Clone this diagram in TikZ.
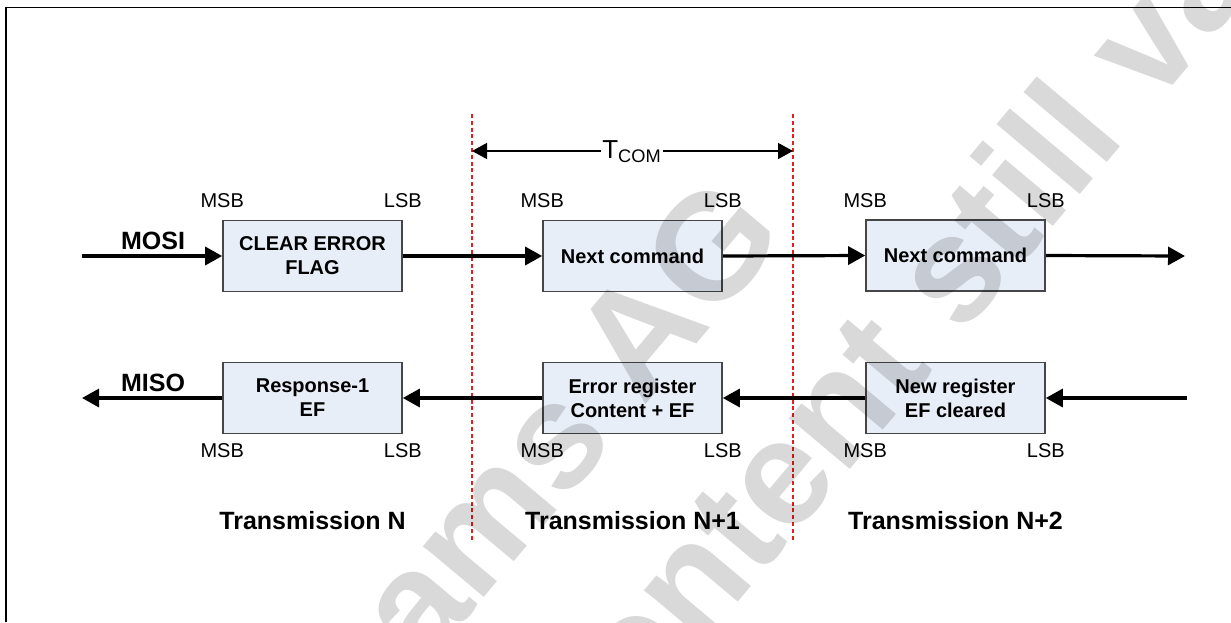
\documentclass[tikz,border=0pt]{standalone}
\usepackage{fontspec}
\setmainfont{Liberation Sans}
\usetikzlibrary{arrows.meta,positioning}
\definecolor{boxfill}{RGB}{232,238,248}
\definecolor{boxline}{RGB}{70,70,70}
\definecolor{slotred}{RGB}{230,30,30}

\begin{document}
\begin{tikzpicture}[x=0.5pt,y=-0.5pt,
    regbox/.style={draw=boxline,line width=0.8pt,fill=boxfill,minimum width=89.5pt,
      minimum height=35.5pt,inner sep=0pt,align=center,
      font=\fontsize{10}{12}\selectfont\bfseries},
    bit/.style={inner sep=0pt,font=\fontsize{10}{12}\selectfont},
    sig/.style={inner sep=0pt,font=\fontsize{12.5}{15}\selectfont\bfseries},
    flow/.style={draw=black,line width=1.6pt,-{Triangle[length=8.5pt,width=9pt]}},
    dim/.style={draw=black,line width=0.7pt,-{Triangle[length=7.5pt,width=8pt]}},
    slot/.style={draw=slotred,line width=0.6pt,dash pattern=on 2pt off 1.4pt},
    stamp/.style={inner sep=0pt,text=black,text opacity=0.15,
      font=\fontsize{75}{90}\selectfont\bfseries}]
  \useasboundingbox (0,0) rectangle (1231,622);
  \draw[line width=0.6pt] (6,622) -- (6,7.5) -- (1231,7.5);
  \def \Boxes{
    b1/312.5/256/{CLEAR ERROR\\FLAG},
    b2/632.5/256/{Next command},
    b3/955.5/255.5/{Next command},
    b4/312.5/398/{Response-1\\EF},
    b5/632.5/398/{Error register\\Content + EF},
    b6/955.5/398/{New register\\EF cleared}}
  \def \Edges{
    mosiin/b1.west,
    b1.east/b2.west,
    b2.east/b3.west,
    b3.east/mosiout,
    misoin/b6.east,
    b6.west/b5.east,
    b5.west/b4.east,
    b4.west/misoout}
  % slot borders and free ends
  \coordinate (s1top) at (472,114);
  \coordinate (s1bot) at (472,540);
  \coordinate (s2top) at (793,114);
  \coordinate (s2bot) at (793,540);
  \coordinate (mosiin) at (82,256);
  \coordinate (mosiout) at (1185,256);
  \coordinate (misoin) at (1187,398);
  \coordinate (misoout) at (82,398);
  \path[slot] (s1top) -- (s1bot);
  \path[slot] (s2top) -- (s2bot);
  \foreach \id / \x / \y / \lb in \Boxes{
    \node[regbox] (\id) at (\x, \y) {\lb};
  }
  \foreach \x / \y in \Edges{
    \path[flow] (\x) -- (\y);
  }
  \foreach \id in {b1,b2,b3}{
    \node[bit,anchor=base] (\id msb) at ([yshift=6pt]\id.north west) {MSB};
    \node[bit,anchor=base] (\id lsb) at ([yshift=6pt]\id.north east) {LSB};
  }
  \foreach \id / \lb in {b4/N,b5/N+1,b6/N+2}{
    \node[bit,anchor=base] (\id msb) at ([yshift=-11.5pt]\id.south west) {MSB};
    \node[bit,anchor=base] (\id lsb) at ([yshift=-11.5pt]\id.south east) {LSB};
    \node[sig,anchor=base] (\id tx) at ([yshift=-47.5pt]\id.south) {Transmission \lb};
  }
  \node[sig,anchor=base] (mosi) at (153,249) {MOSI};
  \node[sig,anchor=base] (miso) at (153,391) {MISO};
  % transmission time
  \node[inner sep=0.3pt,anchor=base,font=\fontsize{13}{15}\selectfont] (tcom) at (632,158)
    {T\textsubscript{COM}};
  \coordinate (tl) at (472,151);
  \coordinate (tr) at (793,151);
  \path[dim] (tcom.west |- tl) -- (tl);
  \path[dim] (tcom.east |- tr) -- (tr);
  % watermark
  \node[stamp,rotate=50,anchor=base west] (wm1) at (424,670) {ams AG};
  \node[stamp,rotate=50,anchor=base west] (wm2) at (586,784) {content still valid};
\end{tikzpicture}
\end{document}
